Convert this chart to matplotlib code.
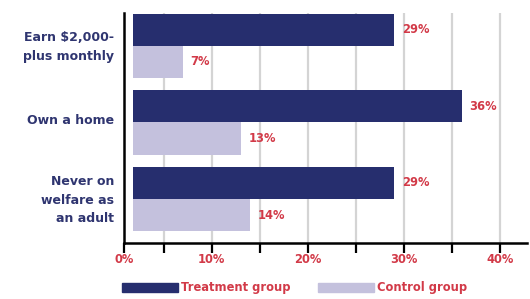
import matplotlib
matplotlib.use("Agg")
import matplotlib.pyplot as plt
import matplotlib.transforms as mtransforms
from matplotlib.patches import Patch
import numpy as np

categories = ["Earn $2,000-\nplus monthly", "Own a home", "Never on\nwelfare as\nan adult"]
treatment = [29, 36, 29]
control = [7, 13, 14]
series_names = ["Treatment group", "Control group"]
tick_values = [10, 20, 30, 40]
tick_labels = ["10%", "20%", "30%", "40%"]

NAVY = "#262e6e"
LAV = "#c4c1dd"
RED = "#d23a48"
LABEL = "#2f3570"
GRID = "#d4d4d4"

plt.rcParams['font.family'] = ['DejaVu Sans']

fig = plt.figure(figsize=(5.30, 2.99), dpi=100)
ax = fig.add_axes([124/530, 56/299, (527-124)/530, (243-13)/299])

x0 = 0.88     # spine position (visual)
gap = 1.8     # bars start slightly right of spine
y = np.arange(len(categories))
h = 0.42
FS = 8.3

ax.barh(y - h/2, np.array(treatment) - gap, left=gap, height=h, color=NAVY, zorder=3)
ax.barh(y + h/2, np.array(control) - gap, left=gap, height=h, color=LAV, zorder=3)

for i, (t, c) in enumerate(zip(treatment, control)):
    ax.text(t + 0.8, i - h/2, f"{t}%", color=RED, fontsize=FS, fontweight='bold',
            va='center', ha='left')
    ax.text(c + 0.8, i + h/2, f"{c}%", color=RED, fontsize=FS, fontweight='bold',
            va='center', ha='left')

ax.set_xlim(x0, 42.8)
ax.set_ylim(2.575, -0.43)

# gridlines every 5%
for g in range(5, 45, 5):
    ax.axvline(g, color=GRID, lw=1.6, zorder=1)

ax.set_xticks([x0] + tick_values)
ax.set_xticklabels(["0%"] + tick_labels)
ax.set_xticks([5, 15, 25, 35], minor=True)
ax.tick_params(axis='x', which='both', direction='out', length=7, width=1.6,
               color='black', labelcolor=RED, labelsize=FS, pad=0)
for lab in ax.get_xticklabels():
    lab.set_fontweight('bold')

ax.set_yticks(y)
ax.set_yticklabels(categories)
ax.tick_params(axis='y', length=0, pad=7, labelcolor=LABEL, labelsize=9)
offset = mtransforms.ScaledTranslation(0, 3/100, fig.dpi_scale_trans)
for lab in ax.get_yticklabels():
    lab.set_fontweight('bold')
    lab.set_linespacing(1.55)
    lab.set_horizontalalignment('right')
    lab.set_multialignment('right')
    lab.set_verticalalignment('center_baseline')
    lab.set_transform(lab.get_transform() + offset)

for s in ['top', 'right']:
    ax.spines[s].set_visible(False)
ax.spines['left'].set_linewidth(1.8)
ax.spines['bottom'].set_linewidth(1.8)
ax.set_facecolor('white')

handles = [Patch(color=NAVY), Patch(color=LAV)]
leg = fig.legend(handles, series_names, loc='center', bbox_to_anchor=(0.556, 0.037),
                 ncol=2, frameon=False, handlelength=4.8, handleheight=0.8,
                 handletextpad=0.3, columnspacing=2.4,
                 prop={'size': FS, 'weight': 'bold'})
for t in leg.get_texts():
    t.set_color(RED)

fig.savefig("out.png", dpi=100, facecolor='white')
